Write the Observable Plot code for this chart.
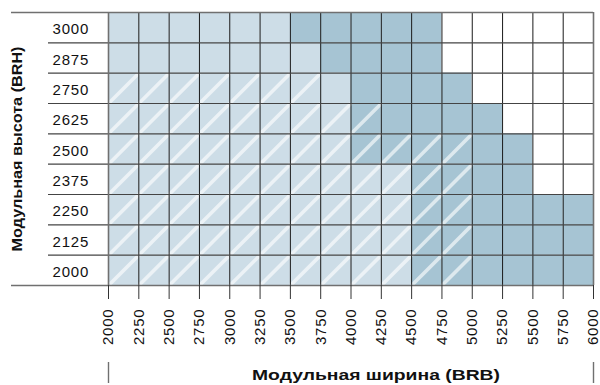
<!DOCTYPE html>
<html>
<head>
<meta charset="utf-8">
<script src="https://cdn.jsdelivr.net/npm/d3@7"></script>
<script src="https://cdn.jsdelivr.net/npm/@observablehq/plot@0.6"></script>
<style>
  html, body { margin: 0; padding: 0; background: #fff; }
  #chart svg { display: block; }
  #chart g[aria-label="x-axis tick label"] text,
  #chart g[aria-label="y-axis tick label"] text { letter-spacing: 0.8px; }
</style>
</head>
<body>
<div id="chart"></div>
<script>
// Modular widths (x tick labels / column edges)
const widths = [2000, 2250, 2500, 2750, 3000, 3250, 3500, 3750, 4000, 4250, 4500, 4750, 5000, 5250, 5500, 5750, 6000];
// Modular heights (rows, top to bottom)
const heights = [3000, 2875, 2750, 2625, 2500, 2375, 2250, 2125, 2000];
// Per row: width where the light zone ends
const lightEnd = [3500, 3750, 4000, 4000, 4000, 4500, 4500, 4500, 4500];
// Per row: width where the dark zone ends (white beyond)
const darkEnd = [4750, 4750, 5000, 5250, 5500, 5500, 6000, 6000, 6000];
// Per row: width where the hatched zone ends (2000 = no hatching)
const hatchEnd = [2000, 2000, 3750, 4250, 5000, 5000, 5000, 5000, 5000];
const rowStep = 125;
const colStep = 250;

const xTitle = "Модульная ширина (BRB)";
const yTitle = "Модульная высота (BRH)";

const cells = [];
heights.forEach((h, i) => {
  widths.slice(0, -1).forEach(w => {
    const zone = w < lightEnd[i] ? "light" : w < darkEnd[i] ? "dark" : "white";
    cells.push({x1: w, x2: w + colStep, y1: h - rowStep / 2, y2: h + rowStep / 2, zone, hatched: w < hatchEnd[i]});
  });
});
const zoneColor = {light: "#cddde7", dark: "#a6c4d3", white: "#ffffff"};
const yMin = heights[heights.length - 1] - rowStep / 2;
const yMax = heights[0] + rowStep / 2;
const rowEdges = heights.slice(0, -1).map(h => h - rowStep / 2);
const font = "'Liberation Sans', Arial, Helvetica, sans-serif";

const chart = Plot.plot({
  width: 600,
  height: 385,
  marginLeft: 108,
  marginRight: 7,
  marginTop: 12,
  marginBottom: 100,
  x: {domain: [widths[0], widths[widths.length - 1]]},
  y: {domain: [yMin, yMax]},
  style: {fontFamily: font, fontSize: "15px", color: "#111", background: "#fff"},
  marks: [
    Plot.rect(cells, {x1: "x1", x2: "x2", y1: "y1", y2: "y2", fill: d => zoneColor[d.zone]}),
    Plot.link(cells.filter(d => d.hatched), {x1: "x1", y1: "y1", x2: "x2", y2: "y2", stroke: "#ffffff", strokeOpacity: 0.62, strokeWidth: 3.6}),
    Plot.ruleX(widths.slice(1, -1), {stroke: "#1a1a1a", strokeWidth: 1}),
    Plot.ruleY(rowEdges, {stroke: "#444", strokeWidth: 1.2, insetLeft: -60}),
    Plot.ruleX([widths[0], widths[widths.length - 1]], {stroke: "#707070", strokeWidth: 1.6}),
    Plot.ruleY([yMin, yMax], {stroke: "#707070", strokeWidth: 1.6, insetLeft: -97}),
    Plot.axisX(widths, {tickSize: 14, tickRotate: -90, tickPadding: 9, label: null, fontSize: 15, stroke: "#333", tickFormat: d => String(d)}),
    Plot.axisY(heights, {tickSize: 0, tickPadding: 0, textAnchor: "start", dx: -56, dy: 2, label: null, fontSize: 15, tickFormat: d => String(d)}),
    Plot.ruleX([widths[0], widths[widths.length - 1]], {insetTop: 350, insetBottom: -98, stroke: "#707070", strokeWidth: 1.4}),
    Plot.text([xTitle], {frameAnchor: "bottom", dy: 94, dx: 25, fontWeight: "bold", fontSize: 15, fill: "#111", textAnchor: "middle"}),
    Plot.text([yTitle], {frameAnchor: "left", dx: -91, rotate: -90, fontWeight: "bold", fontSize: 15, fill: "#111", textAnchor: "middle"})
  ]
});
d3.select(chart).selectAll("text").each(function() {
  const t = this.textContent;
  if (t === xTitle) d3.select(this).attr("textLength", 248).attr("lengthAdjust", "spacingAndGlyphs");
  if (t === yTitle) d3.select(this).attr("textLength", 205).attr("lengthAdjust", "spacingAndGlyphs");
});
document.getElementById("chart").appendChild(chart);
</script>
</body>
</html>
